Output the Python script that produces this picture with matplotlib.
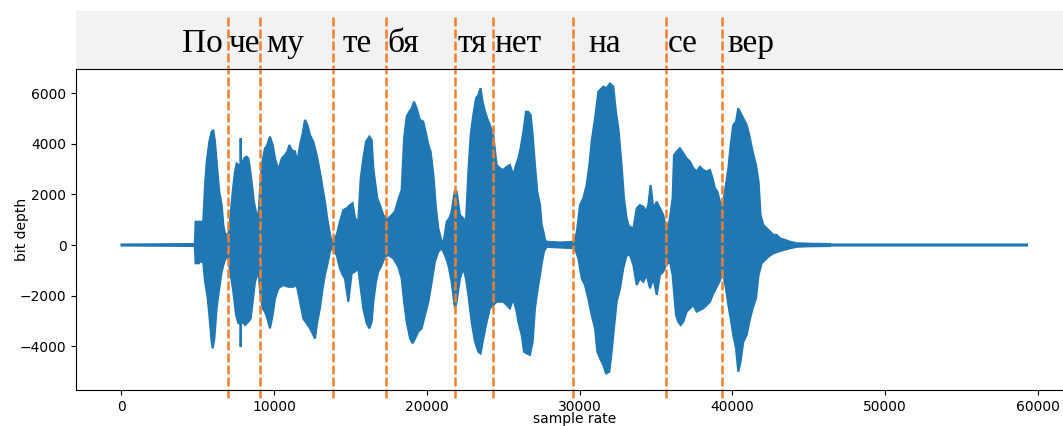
import numpy as np
import matplotlib
matplotlib.use("Agg")
import matplotlib.pyplot as plt

# syllable labels and where they sit (sample index)
syllables = ["По", "че", "му", "те", "бя", "тя", "нет", "на", "се", "вер"]
label_pos = [3930, 7040, 9450, 14475, 17410, 22030, 24440, 30550, 35790, 39690]

# syllable boundaries (sample index)
bounds = [6972, 9067, 13863, 17316, 21833, 24321, 29558, 35646, 39313]

# upper envelope of the waveform (sample, amplitude)
up_x = [0, 4800, 4850, 5070, 5120, 5180, 5350, 5470, 5580, 5750, 5900, 6010, 6120, 6230, 6400, 6560, 6670, 6840, 6950,
        6990, 7100, 7280, 7430, 7540, 7650, 7780, 7800, 7830, 7890, 8020, 8190, 8300, 8410, 8520, 8670, 8800, 8960,
        9070, 9180, 9390, 9500, 9610, 9720, 9900, 10050, 10270, 10490, 10700, 10860, 10990, 11140, 11360, 11510,
        11690, 11860, 12010, 12170, 12340, 12560, 12780, 12990, 13170, 13320, 13470, 13650, 13780,
        13870, 14090, 14300, 14520, 14740, 14960, 15130, 15290, 15500, 15660, 15830, 16010, 16230, 16380, 16490,
        16600, 16750, 16920, 17140, 17360,
        17470, 17690, 17900, 18120, 18340, 18500, 18670, 18840, 19000, 19150, 19320, 19540, 19760, 19930, 20090,
        20240, 20420, 20590, 20740, 20960, 21110, 21290, 21460, 21610, 21830,
        21940, 22160, 22380, 22550, 22710, 22860, 23030, 23210, 23360, 23510, 23640, 23800, 23950, 24120, 24340,
        24560, 24780, 25000, 25220, 25430, 25650, 25830, 25980, 26130, 26310, 26480, 26630, 26790, 26920, 27070,
        27220, 27400, 27510, 27620, 27730, 27830, 28700, 29690,
        29840, 30020, 30230, 30450, 30630, 30780, 31000, 31220, 31540, 31760, 31980, 32200, 32370, 32530, 32740,
        32900, 33070, 33250,
        33290, 33510, 33730, 33940, 34160, 34340, 34490, 34640, 34820, 35040, 35250, 35470,
        35650, 35870, 36080, 36170, 36350, 36560, 36780, 37000, 37220, 37440, 37650, 37870, 38090, 38310, 38530,
        38700, 38850, 39010, 39180, 39330,
        39400, 39570, 39730, 39880, 40050, 40230, 40380, 40490, 40710, 40930, 41100, 41320, 41540, 41710, 41840,
        42020, 42240, 42460, 42670, 42890, 43110, 43440, 43760, 44200, 45070, 46380, 46400, 59280]
up_y = [20, 40, 920, 920, 530, 920, 920, 2370, 3290, 4080, 4470, 4540, 4080, 3290, 2110, 1580, 790, 260, 460,
        400, 920, 2110, 2900, 3220, 3160, 3160, 4210, 3160, 3160, 3420, 3490, 3420, 3030, 2500, 1710, 1320, 1050,
        2240, 3160, 3820, 3880, 4080, 4280, 3950, 3420, 2960, 3420, 3550, 3690, 3950, 3750, 3690, 3290,
        3950, 4410, 4940, 4740, 4340, 4080, 3550, 2900, 2240, 1710, 1050, 400, 70,
        200, 400, 920, 1380, 1450, 1580, 1650, 1050, 920, 2630, 3420, 4080, 4280, 4150, 3030,
        2500, 1840, 1580, 1180, 1050,
        1050, 1180, 1320, 1780, 2170, 4210, 5070, 5260, 5400, 5660, 5400, 4940, 4870, 4410, 3950,
        3690, 2760, 1450, 660, 130, 200, 920, 1050, 1320, 2170,
        2110, 1180, 1050, 920, 2900, 4340, 5130, 5790, 5920, 6190, 5660, 5260, 4990, 4740, 4340,
        3160, 3030, 2960, 3090, 3160, 2760, 3160, 3420, 3820, 4470, 5260, 5260, 5130, 4340, 3160,
        2110, 1580, 790, 530, 200, 130, 100, 130,
        660, 1580, 1840, 2370, 3160, 4080, 5000, 6050, 6250, 6190, 6380, 6250, 5260, 4610, 3160,
        1840, 1050, 660,
        720, 660, 1450, 1580, 1510, 1320, 1580, 2370, 1450, 1710, 1450, 1180,
        660, 920, 1840, 3550, 3690, 3820, 3620, 3420, 3290, 3030, 2900, 3090, 2960, 2900, 2960,
        2630, 2240, 2110, 1710, 1580,
        1710, 2370, 3030, 3950, 4740, 4870, 5400, 5260, 5000, 4740, 4340, 3690, 3160, 2500, 1180,
        790, 660, 530, 400, 400, 260, 200, 130, 70, 50, 40, 20, 20]

# lower envelope of the waveform (sample, amplitude)
low_x = [0, 4800, 4850, 5070, 5120, 5180, 5350, 5470, 5620, 5750, 5900, 5970, 6080, 6230, 6400, 6560, 6730, 6880,
         6990, 7150, 7320, 7500, 7650, 7780, 7800, 7830, 7930, 8090, 8300, 8460, 8590, 8740, 8890, 8980,
         9070, 9240, 9390, 9550, 9720, 9900, 10050, 10270, 10590, 10920, 11250, 11470, 11690, 11900, 12120,
         12340, 12560, 12670, 12820, 12990, 13170, 13320, 13470, 13650, 13780,
         13870, 14090, 14300, 14480, 14630, 14850, 15070, 15290, 15500, 15660, 15830, 16050, 16230, 16380,
         16490, 16660, 16810, 17030, 17250,
         17470, 17800, 18120, 18340, 18500, 18670, 18890, 19060, 19220, 19430, 19650, 19870, 20090, 20310,
         20520, 20740, 20960, 21180, 21400, 21610, 21830,
         21940, 22160, 22380, 22550, 22710, 22920, 23140, 23360, 23510, 23690, 23910, 24120, 24340,
         24560, 24780, 25000, 25220, 25430, 25650, 25870, 25980, 26200, 26350, 26530, 26740, 26920, 27070,
         27220, 27400, 27530, 27660, 27830, 28700, 29690,
         29910, 30130, 30340, 30560, 30780, 31000, 31150, 31330, 31540, 31720, 31940, 32090, 32240, 32420,
         32640, 32850, 33070,
         33290, 33510, 33730, 33940, 34160, 34380, 34600, 34820, 35040, 35250, 35470,
         35650, 35910, 36080, 36170, 36300, 36450, 36610, 36780, 37000, 37220, 37440, 37650, 37870, 38090,
         38310, 38530, 38700, 38920, 39140, 39330,
         39400, 39570, 39730, 39880, 40050, 40230, 40380, 40530, 40710, 40930, 41100, 41320, 41540, 41710,
         41910, 42130, 42350, 42670, 43000, 43330, 43760, 44200, 45070, 46380, 46400, 59280]
low_y = [-20, -40, -720, -720, -400, -660, -660, -1450, -1970, -2760, -3820, -4080, -3690, -2500, -1710, -1050, -660, -460,
         -530, -1180, -1840, -2760, -3090, -3090, -4010, -3100, -3030, -3160, -3030, -2900, -2240, -1450, -1180, -1050,
         -1840, -2500, -2630, -2900, -3290, -2760, -2110, -1710, -1580, -1650, -1650, -1580, -2240, -2900, -3090,
         -3290, -3550, -3690, -3030, -2500, -1710, -1180, -790, -260, -70,
         -200, -400, -920, -1180, -1320, -2240, -1120, -1050, -920, -1710, -2500, -3090, -3290, -3030,
         -2240, -1450, -1050, -790, -460,
         -400, -530, -860, -1320, -2240, -3030, -3690, -3880, -3690, -3420, -3290, -2760, -2240, -1450,
         -660, -260, -130, -400, -790, -1450, -2500,
         -2240, -1320, -920, -1320, -1970, -3030, -3820, -4210, -4280, -3690, -3030, -2500, -2370,
         -2240, -2240, -2240, -2370, -2500, -2110, -2630, -3030, -3550, -4210, -4280, -4340, -3820, -2500,
         -1840, -1180, -660, -260, -70, -100, -130,
         -530, -1320, -1580, -2110, -2760, -3290, -4210, -4470, -4740, -5070, -5000, -4210, -3290, -2240,
         -1710, -920, -400,
         -400, -790, -1580, -1320, -1450, -1180, -1710, -1320, -1970, -1180, -1050,
         -790, -660, -1180, -1840, -2760, -3030, -3160, -3030, -2630, -2500, -2370, -2630, -2570, -2500,
         -2370, -2240, -1970, -1710, -1450, -1180,
         -1180, -1710, -2370, -2900, -3550, -4080, -5000, -4610, -3820, -3550, -3030, -2500, -2110, -1180,
         -720, -590, -460, -330, -260, -200, -130, -70, -50, -40, -20, -20]

fig = plt.figure(figsize=(10.63, 4.26), dpi=100)

# grey strip with the syllables (created first so the boundary lines draw over it)
top = fig.add_axes([0.0717, 0.838, 0.937, 0.136])
top.set_facecolor("#f2f2f2")
for s in top.spines.values():
    s.set_visible(False)
top.set_xticks([])
top.set_yticks([])

ax = fig.add_axes([0.0717, 0.0845, 0.937, 0.7535])

wx = np.concatenate([up_x, low_x[::-1]])
wy = np.concatenate([up_y, low_y[::-1]])
ax.fill(wx, wy, color="#1f77b4", lw=1.5)

ax.set_xlim(-2964, 62244)
ax.set_ylim(-5723, 6947)
top.set_xlim(ax.get_xlim())
top.set_ylim(0, 1)

for b in bounds:
    ax.axvline(b, ymin=-0.025, ymax=1.162, color="#f47f2a", ls=(0, (3.6, 1.2)), lw=1.8, clip_on=False)

for lab, x in zip(syllables, label_pos):
    top.text(x, 0.29, lab, fontsize=24, family="Liberation Serif", ha="left", va="baseline")

ax.set_xlabel("sample rate")
ax.set_ylabel("bit depth")
ax.xaxis.set_label_coords(0.5, -0.07)
ax.yaxis.set_label_coords(-0.047, 0.5)

fig.savefig("out.png", dpi=100)
